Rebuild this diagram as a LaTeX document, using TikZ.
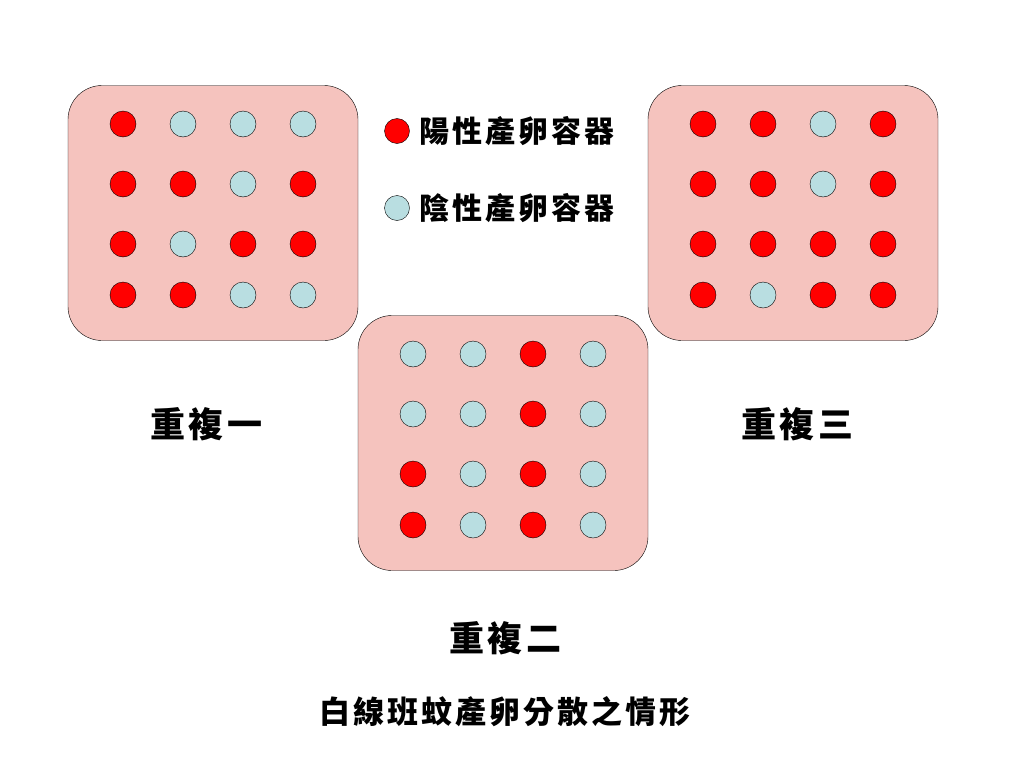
\documentclass[tikz,border=0pt]{standalone}
\usepackage{fontspec}
\setmainfont{Noto Sans CJK TC}
\newfontfamily\spacedfont[LetterSpace=10]{Noto Sans CJK TC}
\definecolor{trayfill}{RGB}{245,195,190}
\definecolor{posred}{RGB}{255,0,0}
\definecolor{negblue}{RGB}{185,222,225}

\begin{document}
\begin{tikzpicture}[x=1pt, y=-1pt,
        tray/.style={draw=black, fill=trayfill, rounded corners=34pt, minimum width=290pt, minimum height=255pt, inner sep=0pt},
        cup/.style={circle, draw=black, minimum size=26pt, inner sep=0pt},
        redcup/.style={cup, fill=posred},
        bluecup/.style={cup, fill=negblue},
        reptitle/.style={font=\spacedfont\bfseries\fontsize{35}{40}\selectfont},
        legend/.style={anchor=west, font=\spacedfont\bfseries\fontsize{30}{36}\selectfont},
        caption/.style={font=\spacedfont\bfseries\fontsize{31}{36}\selectfont}
    ]
        \useasboundingbox (0,0) rectangle (1024,768);

        % Trays
        \node[tray] (T1) at (213, 213) {};
        \node[tray] (T2) at (503, 443) {};
        \node[tray] (T3) at (793, 213) {};

        % Replicate 1
        \foreach \kinds [count=\r] in {{redcup,bluecup,bluecup,bluecup},{redcup,redcup,bluecup,redcup},{redcup,bluecup,redcup,redcup},{redcup,redcup,bluecup,bluecup}} {
            \pgfmathsetmacro\dy{\r<4 ? 60*(\r-1) : 171}
            \foreach \kind [count=\c] in \kinds
                \node[\kind] (A-\r-\c) at ({123+60*(\c-1)}, {124+\dy}) {};
        }

        % Replicate 2
        \foreach \kinds [count=\r] in {{bluecup,bluecup,redcup,bluecup},{bluecup,bluecup,redcup,bluecup},{redcup,bluecup,redcup,bluecup},{redcup,bluecup,redcup,bluecup}} {
            \pgfmathsetmacro\dy{\r<4 ? 60*(\r-1) : 171}
            \foreach \kind [count=\c] in \kinds
                \node[\kind] (B-\r-\c) at ({413+60*(\c-1)}, {354+\dy}) {};
        }

        % Replicate 3
        \foreach \kinds [count=\r] in {{redcup,redcup,bluecup,redcup},{redcup,redcup,bluecup,redcup},{redcup,redcup,redcup,redcup},{redcup,bluecup,redcup,redcup}} {
            \pgfmathsetmacro\dy{\r<4 ? 60*(\r-1) : 171}
            \foreach \kind [count=\c] in \kinds
                \node[\kind] (C-\r-\c) at ({703+60*(\c-1)}, {124+\dy}) {};
        }

        % Legend
        \node[redcup, minimum size=25pt] (Lpos) at (397, 131) {};
        \node[bluecup, minimum size=25pt] (Lneg) at (397, 208) {};
        \node[legend] (Tpos) at (416, 131) {陽性產卵容器};
        \node[legend] (Tneg) at (416, 208) {陰性產卵容器};

        % Labels
        \node[reptitle] (R1) at (206, 424) {重複一};
        \node[reptitle] (R2) at (505, 638) {重複二};
        \node[reptitle] (R3) at (797, 424) {重複三};
        \node[caption] (Cap) at (505, 712) {白線班蚊產卵分散之情形};

    \end{tikzpicture}
\end{document}
